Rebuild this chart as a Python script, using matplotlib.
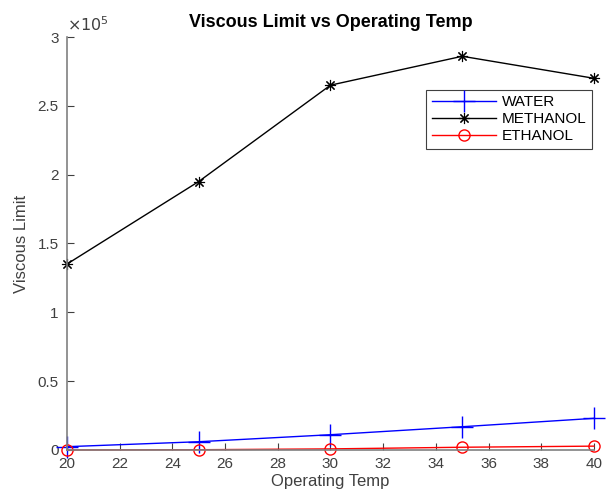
import matplotlib.pyplot as plt
import numpy as np

plt.rcParams['font.family'] = ['Liberation Sans', 'DejaVu Sans']

# Operating temperature and viscous limit for each working fluid
temp = [20, 25, 30, 35, 40]
water = [2400, 6000, 11100, 16900, 23000]
methanol = [135000, 195000, 265000, 286000, 270000]
ethanol = [0, 200, 800, 2000, 2800]

fig = plt.figure(figsize=(6.08, 4.98), dpi=100)
ax = fig.add_axes([0.110, 0.0964, 0.867, 0.8293])

ax.plot(temp, water, color='blue', marker='+', markersize=16, lw=1,
        clip_on=False, label='WATER')
ax.plot(temp, methanol, color='black', marker=(8, 2, 0), markersize=8, lw=1,
        markeredgewidth=0.8, clip_on=False, label='METHANOL')
ax.plot(temp, ethanol, color='red', marker='o', markersize=8, lw=1,
        markerfacecolor='none', clip_on=False, label='ETHANOL')

ax.set_xlim(20, 40)
ax.set_ylim(0, 3e5)
ax.set_xticks(np.arange(20, 41, 2))
yt = np.arange(0, 3.01, 0.5)
ax.set_yticks(yt * 1e5)
ax.set_yticklabels(['0', '0.5', '1', '1.5', '2', '2.5', '3'])
ax.text(0.0, 1.008, r'$\times10^5$', transform=ax.transAxes, fontsize=11.5,
        color='#404040', ha='left', va='bottom')

for side in ['top', 'right']:
    ax.spines[side].set_visible(False)
for side in ['left', 'bottom']:
    ax.spines[side].set_color('#808080')
    ax.spines[side].set_linewidth(1.2)
ax.tick_params(direction='in', length=5, colors='#404040', labelsize=11,
               width=0.8)
ax.tick_params(axis='y', pad=6)
ax.tick_params(axis='x', pad=5)

ax.set_title('Viscous Limit vs Operating Temp', fontsize=13, fontweight='bold', pad=7)
ax.set_xlabel('Operating Temp', fontsize=12, color='#404040', labelpad=2)
ax.set_ylabel('Viscous Limit', fontsize=12, color='#404040', labelpad=6)

leg = ax.legend(loc='upper right', bbox_to_anchor=(0.996, 0.872), fontsize=11,
                fancybox=False, framealpha=1, edgecolor='#404040',
                handlelength=4.2, handletextpad=0.4, borderpad=0.35,
                labelspacing=0.2, borderaxespad=0)
leg.get_frame().set_linewidth(0.8)

fig.savefig('out.png', dpi=100)
